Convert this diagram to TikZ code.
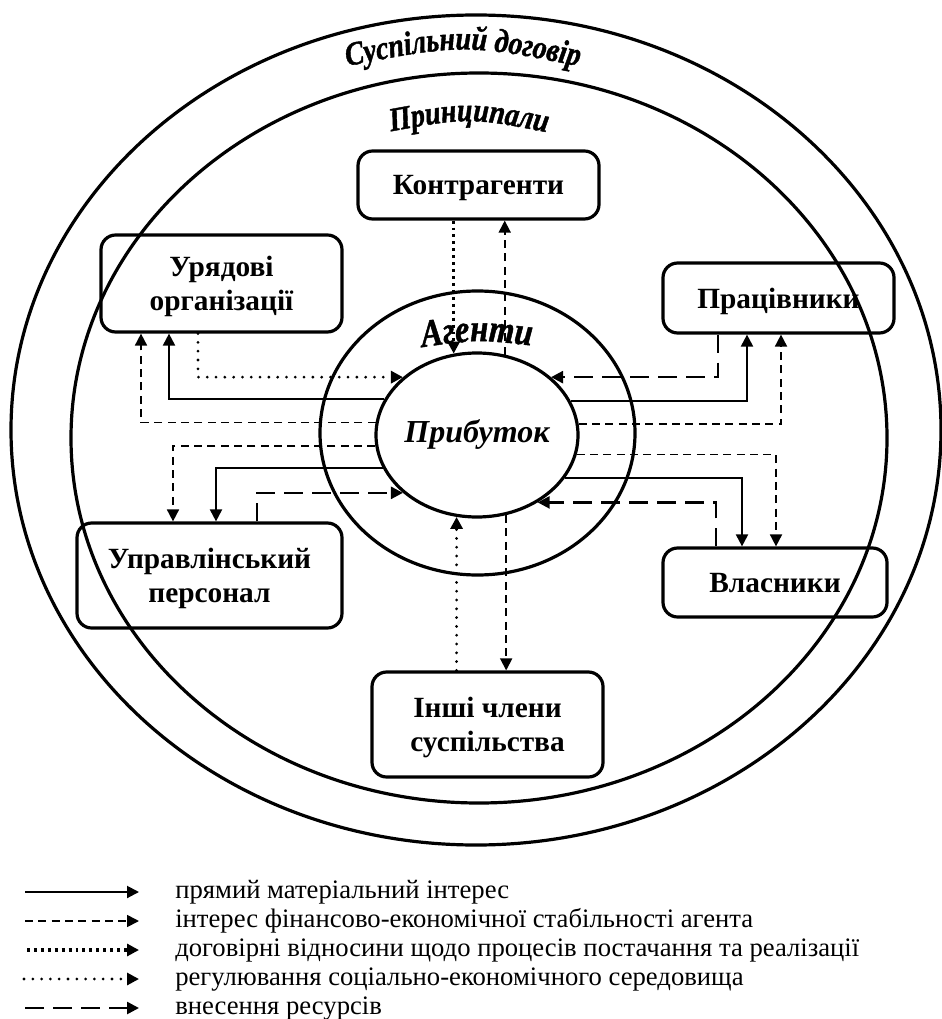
\documentclass[tikz,border=0pt]{standalone}
\usepackage{fontspec}
\setmainfont{Liberation Serif}
\newfontfamily\decofam{Liberation Serif}[FakeStretch=0.84,FakeBold=1.2]
\usetikzlibrary{shapes.geometric,arrows.meta,calc,decorations.text}
\newcommand\decoA{\decofam\fontsize{25pt}{25pt}\selectfont\bfseries\itshape}
\newcommand\decoB{\decofam\fontsize{25pt}{25pt}\selectfont\bfseries\itshape}
\newcommand\decoC{\decofam\fontsize{29pt}{29pt}\selectfont\bfseries\itshape}
\begin{document}
\begin{tikzpicture}[x=0.75pt,y=-0.75pt,
  >={Triangle[length=9pt,width=9pt]},
  ring/.style={line width=2.4pt},
  box/.style={draw, line width=2.4pt, rounded corners=11pt, align=center,
    font=\fontsize{22pt}{25.5pt}\selectfont\bfseries, inner sep=0pt, text depth=0pt},
  solidln/.style={line width=1.5pt},
  finln/.style={line width=1.3pt, dash pattern=on 6pt off 4pt},
  resln/.style={line width=1.9pt, dash pattern=on 14pt off 7pt},
  contrln/.style={line width=2.3pt, dash pattern=on 2.2pt off 3pt},
  regln/.style={line width=2.3pt, line cap=round, dash pattern=on 0pt off 6.6pt},
  legtext/.style={anchor=base west, font=\fontsize{20pt}{20pt}\selectfont, inner sep=0pt}
]
\useasboundingbox (0,0) rectangle (941,1019);
\fill[white] (0,0) rectangle (941,1019);

% rings
\draw[ring] (476,430) ellipse [x radius=465, y radius=415];
\draw[ring] (479,438) ellipse [x radius=408, y radius=365];
\draw[ring] (477.5,433) ellipse [x radius=157.5, y radius=142];
\node[draw, ellipse, line width=2.4pt, minimum width=151.5pt, minimum height=123pt, inner sep=0pt] (profit) at (477,435) {};
\node[font=\fontsize{24pt}{24pt}\selectfont\bfseries\itshape, inner sep=0pt] (profittxt) at (477,434) {Прибуток};

% boxes
\node[box, minimum width=180.75pt, minimum height=51pt] (K) at (478.5,185) {Контрагенти};
\node[box, minimum width=180.75pt, minimum height=72.75pt] (U) at (221.5,283.5) {Урядові\\організації};
\node[box, minimum width=173.25pt, minimum height=52.5pt] (P) at (778.5,298) {Працівники};
\node[box, minimum width=198.75pt, minimum height=78.75pt] (M) at (209.5,575.5) {Управлінський\\персонал};
\node[box, minimum width=168pt, minimum height=51.75pt] (V) at (775,582.5) {Власники};
\node[box, minimum width=173.25pt, minimum height=78.75pt] (I) at (487.5,724.5) {Інші члени\\суспільства};

% Урядові організації
\draw[finln,->] (profit.173.2) -| ($(U.south)+(-80.5,0)$);
\draw[solidln,->] (profit.159.7) -| ($(U.south)+(-52.5,0)$);
\draw[regln,->] ($(U.south)+(-23.5,0)$) |- (profit.142.5);
% Контрагенти
\draw[contrln,->] (K.south -| profit.106.8) -- (profit.106.8);
\draw[finln,->] (profit.71.1) -- (K.south -| profit.71.1);
% Працівники
\draw[resln,->] ($(P.south)+(-60.5,0)$) |- (profit.38);
\draw[solidln,->] (profit.20.3) -| ($(P.south)+(-31.5,0)$);
\draw[finln,->] (profit.6.8) -| ($(P.south)+(2.5,0)$);
% Управлінський персонал
\draw[finln,->] (profit.186.3) -| ($(M.north)+(-36.5,0)$);
\draw[solidln,->] (profit.199.6) -| ($(M.north)+(6.5,0)$);
\draw[resln,->] ($(M.north)+(47.5,0)$) |- (profit.218);
% Власники
\draw[finln,->] (profit.349.6) -| ($(V.north)+(1,0)$);
\draw[solidln,->] (profit.334.2) -| ($(V.north)+(-33,0)$);
\draw[resln,->] ($(V.north)+(-59,0)$) |- (profit.312.3);
% Інші члени суспільства
\draw[regln,->] (I.north -| profit.256.7) -- (profit.256.7);
\draw[finln,->] (profit.290.3) -- (I.north -| profit.290.3);

% curved titles
\path[decorate, decoration={text along path, text align=center, text={|\decoA|Суспільний договір}}]
  (333,69) .. controls (463,43) .. (593,69);
\path[decorate, decoration={text along path, text align=center, text={|\decoB|Принципали}}]
  (382,133) .. controls (469,117) .. (556,134);
\path[decorate, decoration={text along path, text align=center, text={|\decoC|Агенти}}]
  (410,349) .. controls (477,339) .. (544,347);

% legend
\coordinate (la1) at (25,892);   \coordinate (lb1) at (139,892);
\coordinate (la2) at (25,921);   \coordinate (lb2) at (139,921);
\coordinate (la3) at (27,950);   \coordinate (lb3) at (139,950);
\coordinate (la4) at (24,979);   \coordinate (lb4) at (139,979);
\coordinate (la5) at (25,1008);  \coordinate (lb5) at (139,1008);
\draw[solidln,->] (la1) -- (lb1);
\draw[finln,->] (la2) -- (lb2);
\draw[contrln,->] (la3) -- (lb3);
\draw[regln,->] (la4) -- (lb4);
\draw[resln,->] (la5) -- (lb5);
\node[legtext] (t1) at (175,898) {прямий матеріальний інтерес};
\node[legtext] (t2) at (175,927) {інтерес фінансово-економічної стабільності агента};
\node[legtext] (t3) at (175,956) {договірні відносини щодо процесів постачання та реалізації};
\node[legtext] (t4) at (175,985) {регулювання соціально-економічного середовища};
\node[legtext] (t5) at (175,1014) {внесення ресурсів};
\end{tikzpicture}
\end{document}
